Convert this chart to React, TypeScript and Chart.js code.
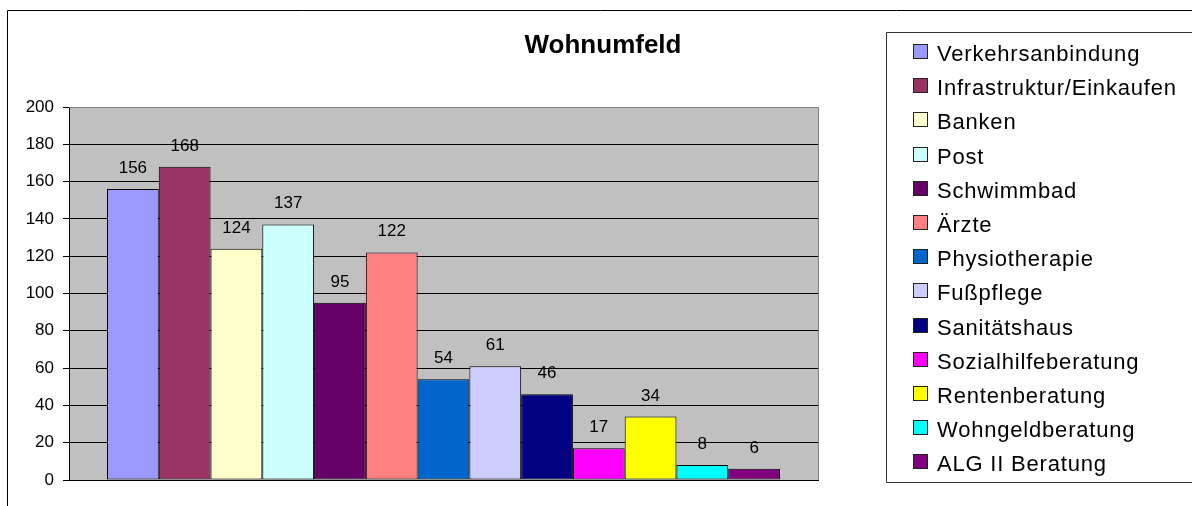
import React, { useEffect, useRef } from 'react';
import { Chart, registerables } from 'chart.js';

Chart.register(...registerables);

const FONT = "'Liberation Sans', Arial, Helvetica, sans-serif";

const chartTitle = 'Wohnumfeld';

const categories = [
  'Verkehrsanbindung',
  'Infrastruktur/Einkaufen',
  'Banken',
  'Post',
  'Schwimmbad',
  'Ärzte',
  'Physiotherapie',
  'Fußpflege',
  'Sanitätshaus',
  'Sozialhilfeberatung',
  'Rentenberatung',
  'Wohngeldberatung',
  'ALG II Beratung',
];

const values = [156, 168, 124, 137, 95, 122, 54, 61, 46, 17, 34, 8, 6];

const colors = [
  '#9999FF',
  '#993366',
  '#FFFFCC',
  '#CCFFFF',
  '#660066',
  '#FF8080',
  '#0066CC',
  '#CCCCFF',
  '#000080',
  '#FF00FF',
  '#FFFF00',
  '#00FFFF',
  '#800080',
];

const yMin = 0;
const yMax = 200;
const yStep = 20;

export default function App() {
  const ref = useRef<HTMLCanvasElement>(null);

  useEffect(() => {
    const canvas = ref.current;
    if (!canvas) return;

    const decor = {
      id: 'excelDecor',
      beforeDraw(chart: any) {
        const { ctx, chartArea } = chart;
        ctx.save();
        ctx.fillStyle = '#FFFFFF';
        ctx.fillRect(0, 0, chart.width, chart.height);
        ctx.fillStyle = '#C0C0C0';
        ctx.fillRect(chartArea.left, chartArea.top, chartArea.right - chartArea.left, chartArea.bottom - chartArea.top);
        ctx.restore();
      },
      afterDatasetsDraw(chart: any) {
        const { ctx, chartArea } = chart;
        ctx.save();
        // plot area border (grey) top & right
        ctx.strokeStyle = '#808080';
        ctx.lineWidth = 1;
        ctx.beginPath();
        ctx.moveTo(chartArea.left, Math.round(chartArea.top) + 0.5);
        ctx.lineTo(Math.round(chartArea.right) + 0.5, Math.round(chartArea.top) + 0.5);
        ctx.lineTo(Math.round(chartArea.right) + 0.5, chartArea.bottom);
        ctx.stroke();
        // value labels
        ctx.fillStyle = '#000000';
        ctx.font = `17px ${FONT}`;
        ctx.textAlign = 'center';
        ctx.textBaseline = 'alphabetic';
        chart.data.datasets.forEach((ds: any, i: number) => {
          const meta = chart.getDatasetMeta(i);
          const el = meta.data[0];
          if (!el) return;
          ctx.fillText(String(ds.data[0]), el.x, el.y - 16);
        });
        ctx.restore();
      },
      afterDraw(chart: any) {
        const { ctx } = chart;
        ctx.save();
        // outer chart frame
        ctx.strokeStyle = '#000000';
        ctx.lineWidth = 1;
        ctx.beginPath();
        ctx.moveTo(7.5, chart.height + 2);
        ctx.lineTo(7.5, 10.5);
        ctx.lineTo(chart.width + 2, 10.5);
        ctx.stroke();
        // title
        ctx.fillStyle = '#000000';
        ctx.font = `bold 26px ${FONT}`;
        ctx.textAlign = 'center';
        ctx.textBaseline = 'alphabetic';
        ctx.fillText(chartTitle, 603, 53);
        // legend box
        ctx.strokeStyle = '#333333';
        ctx.beginPath();
        ctx.moveTo(chart.width + 2, 32.5);
        ctx.lineTo(886.5, 32.5);
        ctx.lineTo(886.5, 482.5);
        ctx.lineTo(chart.width + 2, 482.5);
        ctx.stroke();
        // legend items
        ctx.font = `22px ${FONT}`;
        ctx.textAlign = 'left';
        try { (ctx as any).letterSpacing = '0.8px'; } catch (e) {}
        chart.data.datasets.forEach((ds: any, i: number) => {
          const top = Math.round(44 + i * 34.2);
          ctx.fillStyle = ds.backgroundColor;
          ctx.fillRect(913, top, 15, 15);
          ctx.strokeStyle = '#222222';
          ctx.strokeRect(913.5, top + 0.5, 14, 14);
          ctx.fillStyle = '#000000';
          ctx.fillText(ds.label, 937, top + 17);
        });
        try { (ctx as any).letterSpacing = '0px'; } catch (e) {}
        ctx.restore();
      },
    };

    const chart = new Chart(canvas, {
      type: 'bar',
      data: {
        labels: [''],
        datasets: categories.map((name, i) => ({
          label: name,
          data: [values[i]],
          backgroundColor: colors[i],
          borderColor: '#000000',
          borderWidth: 1,
          borderSkipped: false,
          categoryPercentage: 0.8985,
          barPercentage: 1,
        })),
      },
      options: {
        responsive: false,
        animation: false,
        devicePixelRatio: 1,
        layout: { padding: { left: 0, top: 107, right: 374, bottom: 26 } },
        plugins: {
          legend: { display: false },
          title: { display: false },
          tooltip: { enabled: false },
        },
        scales: {
          x: {
            ticks: { display: false },
            grid: { display: false },
            border: { display: true, color: '#000000', width: 1 },
            afterFit: (s: any) => { s.height = 0; },
          },
          y: {
            min: yMin,
            max: yMax,
            ticks: {
              stepSize: yStep,
              color: '#000000',
              font: { family: FONT, size: 17 },
              padding: 9,
            },
            grid: {
              color: (c: any) => (c.tick && c.tick.value === yMax ? '#808080' : '#000000'),
              tickColor: '#000000',
              tickLength: 6,
              lineWidth: 1,
            },
            border: { display: true, color: '#000000', width: 1 },
            afterFit: (s: any) => { s.width = 69; },
          },
        },
      },
      plugins: [decor],
    });

    return () => chart.destroy();
  }, []);

  return (
    <canvas
      ref={ref}
      width={1192}
      height={506}
      style={{ position: 'absolute', left: 0, top: 0, display: 'block' }}
    />
  );
}
